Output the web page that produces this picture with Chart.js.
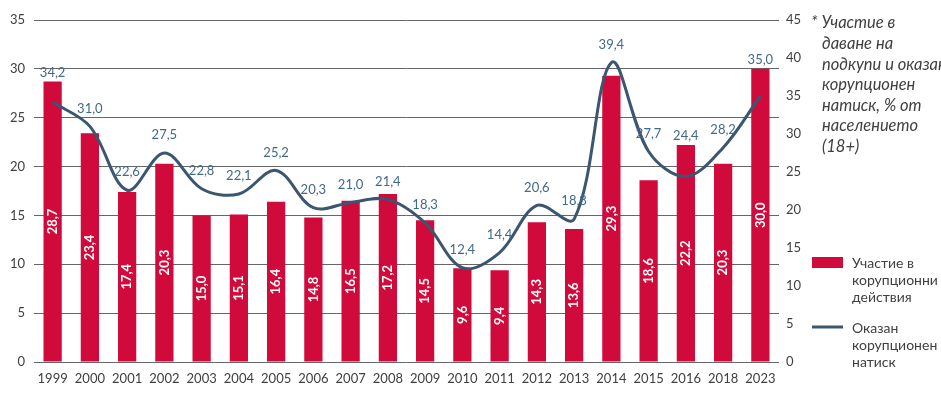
<!DOCTYPE html>
<html>
<head>
<meta charset="utf-8">
<script src="https://cdn.jsdelivr.net/npm/chart.js@4.4.1/dist/chart.umd.min.js"></script>
<style>
  html, body { margin: 0; padding: 0; background: #fff; }
  #wrap { width: 941px; height: 396px; }
</style>
</head>
<body>
<div id="wrap"><canvas id="chart" width="941" height="396"></canvas></div>
<script>
// Data
var years = ['1999', '2000', '2001', '2002', '2003', '2004', '2005', '2006', '2007', '2008',
             '2009', '2010', '2011', '2012', '2013', '2014', '2015', '2016', '2018', '2023'];
var participation = [28.7, 23.4, 17.4, 20.3, 15.0, 15.1, 16.4, 14.8, 16.5, 17.2,
                     14.5, 9.6, 9.4, 14.3, 13.6, 29.3, 18.6, 22.2, 20.3, 30.0];
var pressure = [34.2, 31.0, 22.6, 27.5, 22.8, 22.1, 25.2, 20.3, 21.0, 21.4,
                18.3, 12.4, 14.4, 20.6, 18.8, 39.4, 27.7, 24.4, 28.2, 35.0];
var leftMax = 35;
var rightMax = 45;
var tickStep = 5;

var noteLines = ['* Участие в', 'даване на', 'подкупи и оказан', 'корупционен', 'натиск, % от', 'населението', '(18+)'];
var legendBar = ['Участие в', 'корупционни', 'действия'];
var legendLine = ['Оказан', 'корупционен', 'натиск'];

var barColor = '#d10a3c';
var lineColor = '#3a5670';
var labelBlue = '#41698a';
var textColor = '#404040';
var fontFamily = 'Lato, "Open Sans", sans-serif';

function fmt(v) {
    return v.toFixed(1).replace('.', ',');
}

// Value labels: rotated white inside bars, blue above the line
var valueLabels = {
    id: 'valueLabels',
    afterDatasetsDraw: function(chart) {
        var ctx = chart.ctx;
        var barMeta = chart.getDatasetMeta(0);
        var lineMeta = chart.getDatasetMeta(1);
        ctx.save();
        ctx.textAlign = 'center';
        ctx.textBaseline = 'middle';

        ctx.font = 'bold 13px ' + fontFamily;
        ctx.fillStyle = '#ffffff';
        barMeta.data.forEach(function(bar, i) {
            var mid = (bar.y + bar.base) / 2;
            ctx.save();
            ctx.translate(bar.x, mid);
            ctx.rotate(-Math.PI / 2);
            ctx.fillText(fmt(participation[i]), 0, 0);
            ctx.restore();
        });

        ctx.font = '13px ' + fontFamily;
        ctx.fillStyle = labelBlue;
        lineMeta.data.forEach(function(pt, i) {
            var y = pt.y - 18;
            var barTop = barMeta.data[i].y;
            // keep the label clear of the bar below it
            if (y + 8 > barTop) y = barTop - 9;
            ctx.fillText(fmt(pressure[i]), pt.x, y);
        });
        ctx.restore();
    }
};

// Note and legend on the right side
var sidePanel = {
    id: 'sidePanel',
    afterDraw: function(chart) {
        var ctx = chart.ctx;
        var x0 = chart.chartArea.right + 33;
        ctx.save();
        ctx.textBaseline = 'middle';
        ctx.textAlign = 'left';
        ctx.fillStyle = textColor;

        ctx.font = 'italic 16.5px ' + fontFamily;
        noteLines.forEach(function(line, i) {
            ctx.fillText(line, i === 0 ? x0 - 1 : x0 + 10, 23 + i * 20.6);
        });

        ctx.font = '14px ' + fontFamily;
        ctx.fillStyle = barColor;
        ctx.fillRect(x0, 257, 31, 11);
        ctx.fillStyle = textColor;
        legendBar.forEach(function(line, i) {
            ctx.fillText(line, x0 + 40, 263 + i * 17);
        });

        ctx.strokeStyle = lineColor;
        ctx.lineWidth = 3;
        ctx.beginPath();
        ctx.moveTo(x0, 327);
        ctx.lineTo(x0 + 31, 327);
        ctx.stroke();
        legendLine.forEach(function(line, i) {
            ctx.fillText(line, x0 + 40, 328 + i * 17);
        });
        ctx.restore();
    }
};

var ctx = document.getElementById('chart').getContext('2d');
var chart = new Chart(ctx, {
    type: 'bar',
    data: {
        labels: years,
        datasets: [{
            type: 'bar',
            label: 'Участие в корупционни действия',
            data: participation,
            backgroundColor: barColor,
            yAxisID: 'y',
            barPercentage: 0.49,
            categoryPercentage: 1,
            order: 2
        }, {
            type: 'line',
            label: 'Оказан корупционен натиск',
            data: pressure,
            borderColor: lineColor,
            borderWidth: 3,
            pointRadius: 0,
            tension: 0.35,
            yAxisID: 'y1',
            order: 1
        }]
    },
    options: {
        responsive: false,
        animation: false,
        layout: {
            padding: { top: 20, left: 0, right: 0, bottom: 0 }
        },
        plugins: {
            legend: { display: false },
            tooltip: { enabled: false }
        },
        scales: {
            x: {
                grid: { display: false, drawTicks: false },
                border: { display: false },
                ticks: {
                    color: textColor,
                    font: { family: fontFamily, size: 13 },
                    padding: 9,
                    maxRotation: 0,
                    autoSkip: false
                },
                afterFit: function(scale) { scale.height = 34; }
            },
            y: {
                position: 'left',
                min: 0,
                max: leftMax,
                grid: { color: '#666666', drawTicks: false },
                border: { display: false },
                ticks: {
                    stepSize: tickStep,
                    color: textColor,
                    font: { family: fontFamily, size: 13 },
                    padding: 9
                },
                afterFit: function(scale) { scale.width = 34; }
            },
            y1: {
                position: 'right',
                min: 0,
                max: rightMax,
                grid: { display: false, drawTicks: false },
                border: { display: false },
                ticks: {
                    stepSize: tickStep,
                    color: textColor,
                    font: { family: fontFamily, size: 13 },
                    padding: 7
                },
                afterFit: function(scale) { scale.width = 162; }
            }
        }
    },
    plugins: [valueLabels, sidePanel]
});
</script>
</body>
</html>
